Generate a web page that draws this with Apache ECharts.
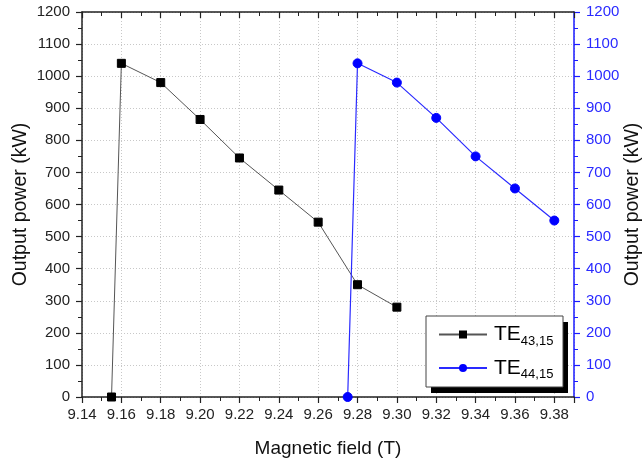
<!DOCTYPE html>
<html>
<head>
<meta charset="utf-8">
<script src="https://cdn.jsdelivr.net/npm/echarts@6/dist/echarts.min.js"></script>
<style>
  html, body { margin: 0; padding: 0; background: #fff; }
  #chart { width: 644px; height: 464px; }
</style>
</head>
<body>
<div id="chart"></div>
<script>
// Output power versus magnetic field for two gyrotron modes
const fieldTE4315 = [9.155, 9.16, 9.18, 9.20, 9.22, 9.24, 9.26, 9.28, 9.30];
const powerTE4315 = [0, 1040, 980, 865, 745, 645, 545, 350, 280];

const fieldTE4415 = [9.275, 9.28, 9.30, 9.32, 9.34, 9.36, 9.38];
const powerTE4415 = [0, 1040, 980, 870, 750, 650, 550];

const seriesNames = ['TE43,15', 'TE44,15'];
const seriesSubs = { 'TE43,15': '43,15', 'TE44,15': '44,15' };

const FONT = 'Liberation Sans, Arial, sans-serif';

const pairs = (xs, ys) => xs.map((x, i) => [x, ys[i]]);

const chart = echarts.init(document.getElementById('chart'));

const gridLine = { show: true, lineStyle: { color: '#c8c8c8', type: [1, 2], width: 1 } };

// legend box geometry (white panel with a solid drop shadow)
const LEG = { x: 426, y: 316, w: 137, h: 71, dx: 5, dy: 6 };

chart.setOption({
  animation: false,
  grid: { left: 82, right: 70, top: 12, bottom: 67, containLabel: false, outerBoundsMode: 'none' },
  graphic: [
    {
      type: 'rect',
      z: 5,
      shape: { x: LEG.x + LEG.dx, y: LEG.y + LEG.dy, width: LEG.w, height: LEG.h },
      style: { fill: '#000' }
    },
    {
      type: 'rect',
      z: 6,
      shape: { x: LEG.x, y: LEG.y, width: LEG.w, height: LEG.h },
      style: { fill: '#fff', stroke: '#444', lineWidth: 1 }
    }
  ],
  legend: {
    left: LEG.x,
    top: LEG.y,
    z: 10,
    orient: 'vertical',
    itemWidth: 48,
    itemHeight: 10,
    itemGap: 10,
    padding: [8, 12, 6, 12],
    data: seriesNames,
    formatter: name => '{m|TE}{s|' + seriesSubs[name] + '}',
    textStyle: {
      rich: {
        m: { fontFamily: FONT, fontSize: 21, color: '#000', padding: [0, 0, 0, 2] },
        s: { fontFamily: FONT, fontSize: 13, color: '#000', verticalAlign: 'bottom', padding: [13, 0, 0, 0] }
      }
    }
  },
  xAxis: [
    {
      type: 'value',
      min: 9.14,
      max: 9.39,
      interval: 0.02,
      name: 'Magnetic field (T)',
      nameLocation: 'middle',
      nameGap: 42,
      nameTextStyle: { fontFamily: FONT, fontSize: 19, color: '#111' },
      axisLine: { show: true, onZero: false, lineStyle: { color: '#222', width: 1.5 } },
      axisTick: { show: true, inside: false, length: 6, lineStyle: { color: '#222', width: 1.2 } },
      minorTick: { show: true, splitNumber: 2, length: 4, lineStyle: { color: '#222', width: 1 } },
      axisLabel: {
        fontFamily: FONT, fontSize: 15, color: '#222', margin: 10,
        showMaxLabel: false,
        formatter: v => Math.abs(v - 9.39) < 1e-6 ? '' : v.toFixed(2)
      },
      splitLine: gridLine
    },
    {
      type: 'value',
      position: 'top',
      min: 9.14,
      max: 9.39,
      interval: 0.02,
      axisLine: { show: true, onZero: false, lineStyle: { color: '#222', width: 1.5 } },
      axisTick: { show: true, inside: true, length: 6, lineStyle: { color: '#222', width: 1.2 } },
      minorTick: { show: true, splitNumber: 2, length: 4, lineStyle: { color: '#222', width: 1 } },
      axisLabel: { show: false },
      splitLine: { show: false }
    }
  ],
  yAxis: [
    {
      type: 'value',
      position: 'left',
      min: 0,
      max: 1200,
      interval: 100,
      name: 'Output power (kW)',
      nameLocation: 'middle',
      nameGap: 51,
      nameMoveOverlap: false,
      nameRotate: 90,
      nameTextStyle: { fontFamily: FONT, fontSize: 19.5, color: '#111' },
      axisLine: { show: true, onZero: false, lineStyle: { color: '#222', width: 1.5 } },
      axisTick: { show: true, inside: false, length: 6, lineStyle: { color: '#222', width: 1.2 } },
      minorTick: { show: true, splitNumber: 2, length: 4, lineStyle: { color: '#222', width: 1 } },
      axisLabel: { fontFamily: FONT, fontSize: 15, color: '#222', margin: 12, formatter: v => String(v) },
      splitLine: gridLine
    },
    {
      type: 'value',
      position: 'right',
      min: 0,
      max: 1200,
      interval: 100,
      name: 'Output power (kW)',
      nameLocation: 'middle',
      nameGap: 49,
      nameMoveOverlap: false,
      nameRotate: 90,
      nameTextStyle: { fontFamily: FONT, fontSize: 19.5, color: '#111' },
      axisLine: { show: true, onZero: false, lineStyle: { color: '#1a1aff', width: 1.5 } },
      axisTick: { show: true, inside: false, length: 6, lineStyle: { color: '#1a1aff', width: 1.2 } },
      minorTick: { show: true, splitNumber: 2, length: 4, lineStyle: { color: '#1a1aff', width: 1 } },
      axisLabel: { fontFamily: FONT, fontSize: 15, color: '#2a2aff', margin: 12, formatter: v => String(v) },
      splitLine: { show: false }
    }
  ],
  series: [
    {
      name: seriesNames[0],
      type: 'line',
      xAxisIndex: 0,
      yAxisIndex: 0,
      data: pairs(fieldTE4315, powerTE4315),
      symbol: 'rect',
      symbolSize: 8,
      lineStyle: { color: '#555', width: 1 },
      itemStyle: { color: '#000', borderColor: '#000' },
      z: 3
    },
    {
      name: seriesNames[1],
      type: 'line',
      xAxisIndex: 0,
      yAxisIndex: 1,
      data: pairs(fieldTE4415, powerTE4415),
      symbol: 'circle',
      symbolSize: 9,
      lineStyle: { color: '#2a2aff', width: 1.2 },
      itemStyle: { color: '#0000ff', borderColor: '#0000ff' },
      z: 4
    }
  ]
});
</script>
</body>
</html>
